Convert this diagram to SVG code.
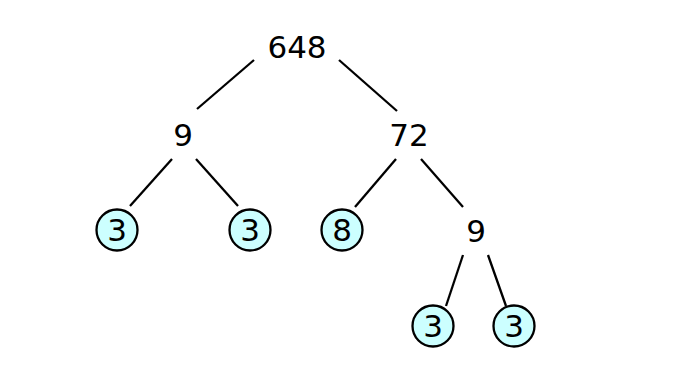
<svg xmlns="http://www.w3.org/2000/svg" width="692" height="386" viewBox="0 0 692 386">
<style>
text{font-family:"DejaVu Sans",sans-serif;font-size:31px;text-anchor:middle;fill:#000}
.c{fill:#ccffff;stroke:#000;stroke-width:2.3}
.e line{stroke:#000;stroke-width:2.3}
</style>
<rect width="692" height="386" fill="#fff"/>
<g class="e" id="edges">
<line x1="254" y1="60" x2="197" y2="109"/>
<line x1="339" y1="60" x2="397" y2="111"/>
<line x1="172" y1="159" x2="130" y2="206"/>
<line x1="196" y1="159" x2="238" y2="206"/>
<line x1="396" y1="159" x2="355" y2="207"/>
<line x1="421" y1="159" x2="463" y2="207"/>
<line x1="463" y1="255" x2="446" y2="306"/>
<line x1="488" y1="255" x2="506" y2="306"/>
</g>
<g id="n648"><text x="297" y="58">648</text></g>
<g id="n9a"><text x="183" y="146">9</text></g>
<g id="n72"><text x="409" y="146">72</text></g>
<g id="n3a"><circle class="c" cx="117" cy="230" r="20.5"/><text x="117" y="241">3</text></g>
<g id="n3b"><circle class="c" cx="250" cy="230" r="20.5"/><text x="250" y="241">3</text></g>
<g id="n8"><circle class="c" cx="342" cy="230" r="20.5"/><text x="342" y="241">8</text></g>
<g id="n9b"><text x="476" y="242">9</text></g>
<g id="n3c"><circle class="c" cx="433" cy="326" r="20.5"/><text x="433" y="337">3</text></g>
<g id="n3d"><circle class="c" cx="514" cy="326" r="20.5"/><text x="514" y="337">3</text></g>
</svg>
